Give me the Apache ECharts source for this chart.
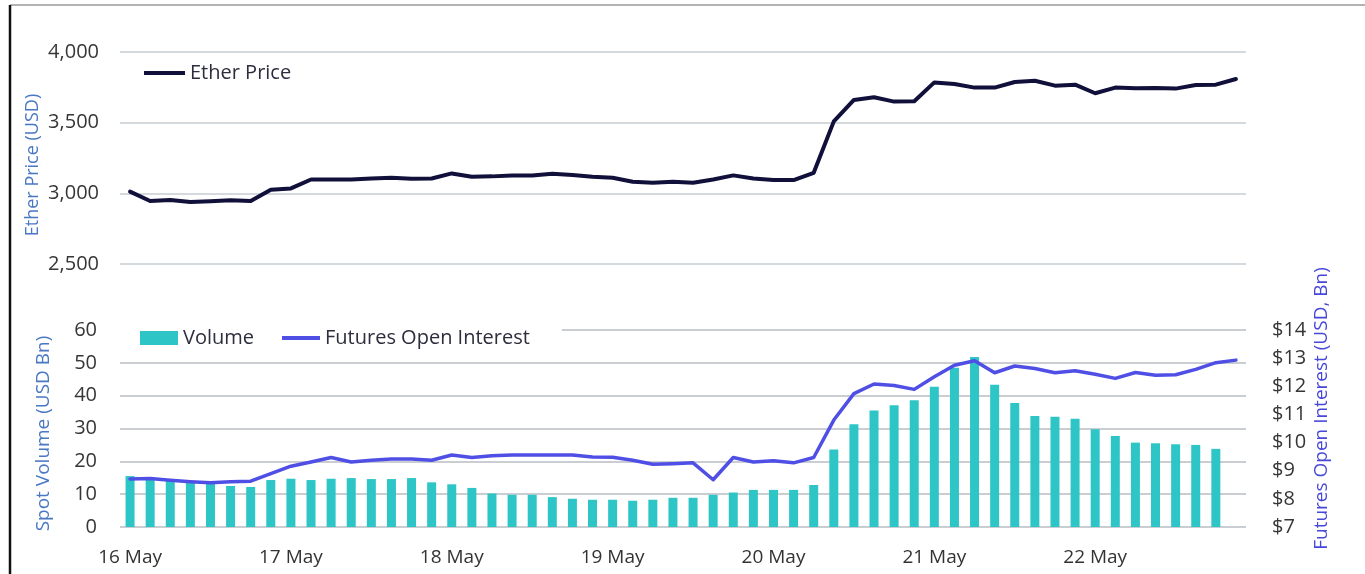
<!DOCTYPE html>
<html>
<head>
<meta charset="utf-8">
<title>Ether price, spot volume and futures open interest</title>
<script src="https://cdn.jsdelivr.net/npm/echarts@6/dist/echarts.min.js"></script>
<style>
  html, body { margin: 0; padding: 0; background: #fff; }
  #chart { width: 1365px; height: 574px; }
</style>
</head>
<body>
<div id="chart"></div>
<script>
// 3-hourly points, 16 May - 22 May
var days = ['16 May', '17 May', '18 May', '19 May', '20 May', '21 May', '22 May'];
var hours = ['00:00', '03:00', '06:00', '09:00', '12:00', '15:00', '18:00', '21:00'];

// Ether price (USD)
var etherPrice = [
    3012, 2946, 2953, 2939, 2944, 2951, 2946, 3026, 3035, 3098,
    3098, 3098, 3105, 3110, 3103, 3105, 3141, 3117, 3120, 3127,
    3127, 3138, 3129, 3117, 3110, 3082, 3075, 3082, 3075, 3098,
    3127, 3105, 3094, 3094, 3145, 3509, 3661, 3680, 3649, 3651,
    3785, 3774, 3748, 3748, 3788, 3797, 3762, 3769, 3708, 3748,
    3743, 3745, 3741, 3766, 3769, 3809
];

// spot volume (USD Bn), last slot has no bar
var spotVolume = [
    15.5, 14.5, 14.1, 13.5, 13.3, 12.5, 12.2, 14.3, 14.7, 14.3,
    14.7, 14.9, 14.6, 14.6, 14.9, 13.6, 13.0, 11.9, 10.2, 9.8,
    9.8, 9.1, 8.6, 8.3, 8.3, 8.0, 8.3, 8.9, 8.9, 9.8,
    10.5, 11.3, 11.3, 11.3, 12.8, 23.6, 31.3, 35.5, 37.1, 38.6,
    42.7, 48.5, 51.8, 43.3, 37.8, 33.8, 33.6, 33.0, 29.8, 27.7,
    25.7, 25.5, 25.2, 25.0, 23.8, null
];

// futures open interest (USD Bn)
var openInterest = [
    8.71, 8.72, 8.66, 8.61, 8.57, 8.61, 8.63, 8.90, 9.16, 9.31,
    9.47, 9.31, 9.37, 9.42, 9.42, 9.37, 9.56, 9.47, 9.53, 9.56,
    9.56, 9.56, 9.56, 9.49, 9.48, 9.37, 9.23, 9.25, 9.28, 8.68,
    9.47, 9.31, 9.35, 9.28, 9.47, 10.80, 11.74, 12.08, 12.03, 11.89,
    12.34, 12.75, 12.91, 12.48, 12.72, 12.63, 12.48, 12.55, 12.43, 12.28,
    12.49, 12.39, 12.41, 12.60, 12.84, 12.93
];

var categories = [];
days.forEach(function (d) {
    hours.forEach(function (h) {
        categories.push(d + ' ' + h);
    });
});

var myChart = echarts.init(document.getElementById('chart'));

var font = 'Open Sans';
var labelColor = '#363636';
var legendText = { fontSize: 20, color: '#2d2d3d', fontFamily: font };

var option = {
    animation: false,
    textStyle: { fontFamily: font },
    // frame of the original screenshot
    graphic: [
        { type: 'line', shape: { x1: 10, y1: 5, x2: 1365, y2: 5 }, style: { stroke: '#9a9a9a', lineWidth: 1.5 } },
        { type: 'line', shape: { x1: 10, y1: 5, x2: 10, y2: 574 }, style: { stroke: '#111', lineWidth: 2.5 } }
    ],
    legend: [
        {
            data: ['Ether Price'],
            left: 144, top: 63,
            icon: 'rect', itemWidth: 41, itemHeight: 4,
            padding: 0,
            textStyle: legendText
        },
        {
            data: ['Volume'],
            left: 120, top: 325,
            icon: 'rect', itemWidth: 38, itemHeight: 14,
            padding: [3, 12, 1, 20],
            backgroundColor: '#fff',
            textStyle: legendText
        },
        {
            data: ['Futures Open Interest'],
            left: 250, top: 325,
            icon: 'rect', itemWidth: 38, itemHeight: 4,
            padding: [3, 32, 1, 32],
            backgroundColor: '#fff',
            textStyle: legendText
        }
    ],
    grid: [
        { left: 120, right: 119, top: 52, height: 212 },
        { left: 120, right: 119, top: 330, height: 197 }
    ],
    xAxis: [
        {
            gridIndex: 0, type: 'category', data: categories, boundaryGap: true,
            axisLine: { show: false }, axisTick: { show: false }, axisLabel: { show: false }
        },
        {
            gridIndex: 1, type: 'category', data: categories, boundaryGap: true,
            axisLine: { show: false }, axisTick: { show: false },
            axisLabel: {
                interval: 7, fontSize: 19, color: '#333', margin: 21, fontFamily: font,
                formatter: function (v) { return v.split(' ').slice(0, 2).join(' '); }
            }
        }
    ],
    yAxis: [
        {
            gridIndex: 0, type: 'value', min: 2500, max: 4000, interval: 500,
            name: 'Ether Price (USD)', nameLocation: 'middle', nameGap: 78, nameRotate: 90,
            nameMoveOverlap: false,
            nameTextStyle: { color: '#4a78c2', fontSize: 18, fontFamily: font, padding: [0, 14, 0, 0] },
            axisLine: { show: false }, axisTick: { show: false },
            axisLabel: {
                fontSize: 20, color: labelColor, margin: 21, fontFamily: font,
                formatter: function (v) { return v.toLocaleString('en-US'); }
            },
            splitLine: { lineStyle: { color: '#c6cdd2', width: 1.5 } }
        },
        {
            gridIndex: 1, type: 'value', min: 0, max: 60, interval: 10,
            name: 'Spot Volume (USD Bn)', nameLocation: 'middle', nameGap: 67, nameRotate: 90,
            nameMoveOverlap: false,
            nameTextStyle: { color: '#4a78c2', fontSize: 19, fontFamily: font, padding: [0, 10, 0, 0] },
            axisLine: { show: false }, axisTick: { show: false },
            axisLabel: { fontSize: 20, color: labelColor, margin: 23, fontFamily: font },
            splitLine: { lineStyle: { color: '#b9bcc2', width: 1.5 } }
        },
        {
            gridIndex: 1, type: 'value', position: 'right', min: 7, max: 14, interval: 1,
            name: 'Futures Open Interest (USD, Bn)', nameLocation: 'middle', nameGap: 66, nameRotate: 90,
            nameMoveOverlap: false,
            nameTextStyle: { color: '#4848d8', fontSize: 19, fontFamily: font, padding: [0, 0, 0, 40] },
            axisLine: { show: false }, axisTick: { show: false },
            axisLabel: {
                fontSize: 20, color: labelColor, margin: 26, fontFamily: font,
                formatter: function (v) { return '$' + v; }
            },
            splitLine: { show: false }
        }
    ],
    series: [
        {
            name: 'Ether Price', type: 'line', xAxisIndex: 0, yAxisIndex: 0,
            data: etherPrice, symbol: 'none', color: '#10103a',
            lineStyle: { width: 4, cap: 'round', join: 'round' }
        },
        {
            name: 'Volume', type: 'bar', xAxisIndex: 1, yAxisIndex: 1,
            data: spotVolume, barWidth: 9, color: '#2ec5c7'
        },
        {
            name: 'Futures Open Interest', type: 'line', xAxisIndex: 1, yAxisIndex: 2,
            data: openInterest, symbol: 'none', color: '#4f4fe6', z: 5,
            lineStyle: { width: 3.5, cap: 'round', join: 'round' }
        }
    ]
};

myChart.setOption(option);
</script>
</body>
</html>
